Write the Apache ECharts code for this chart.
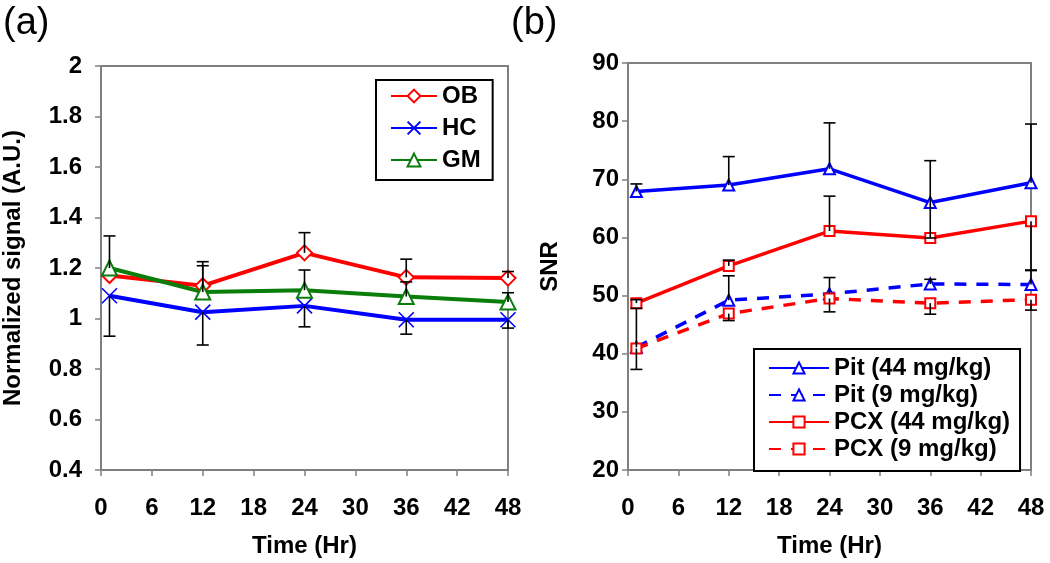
<!DOCTYPE html>
<html>
<head>
<meta charset="utf-8">
<script src="https://cdn.jsdelivr.net/npm/echarts@6/dist/echarts.min.js"></script>
<style>
  html, body { margin: 0; padding: 0; background: #fff; }
  #chart { width: 1050px; height: 563px; }
</style>
</head>
<body>
<div id="chart"></div>
<script>
// time points (hr)
var hours = [1, 12, 24, 36, 48];

// panel (a) - normalized signal
var obVals = [1.17, 1.13, 1.26, 1.163, 1.16];
var obUp = [0, 0.095, 0.08, 0.072, 0.026];
var hcVals = [1.09, 1.025, 1.05, 0.995, 0.995];
var hcDown = [0.16, 0.13, 0.083, 0.057, 0.033];
var gmVals = [1.2, 1.105, 1.112, 1.087, 1.065];
var gmUp = [0.127, 0.104, 0.08, 0.058, 0.037];

// panel (b) - SNR
var pit44 = [67.9, 69.0, 71.8, 66.0, 69.4];
var pit44Up = [1.3, 4.9, 7.9, 7.2, 10.1];
var pit44Down = [0, 0, 0, 6.1, 0];
var pit9 = [41.1, 49.2, 50.3, 52.0, 51.9];
var pit9Up = [6.7, 4.2, 2.8, 0.8, 2.4];
var pcx44 = [48.7, 55.1, 61.1, 59.9, 62.8];
var pcx44Up = [0.6, 1.0, 6.0, 0, 0];
var pcx44Down = [0, 0, 0, 0, 8.4];
var pcx9 = [40.9, 46.9, 49.5, 48.7, 49.3];
var pcx9Down = [3.6, 1.2, 2.3, 1.9, 1.8];

var xTicks = [0, 6, 12, 18, 24, 30, 36, 42, 48];

var FONT = 'Liberation Sans, Arial, sans-serif';
var GRAY = '#808080';
var xMarker = 'path://M0,0L10,10M10,0L0,10';

function pts(vals) {
  return hours.map(function (h, i) { return [h, vals[i]]; });
}

// [x, low, high, capLow, capHigh]
function errData(vals, up, down) {
  var out = [];
  hours.forEach(function (h, i) {
    var u = up ? up[i] : 0, d = down ? down[i] : 0;
    if (u > 0 || d > 0) out.push([h, vals[i] - d, vals[i] + u, d > 0 ? 1 : 0, u > 0 ? 1 : 0]);
  });
  return out;
}

function renderErr(params, api) {
  var lo = api.coord([api.value(0), api.value(1)]);
  var hi = api.coord([api.value(0), api.value(2)]);
  var w = 6;
  var st = { stroke: '#000', lineWidth: 1.6 };
  var kids = [{ type: 'line', shape: { x1: lo[0], y1: lo[1], x2: hi[0], y2: hi[1] }, style: st }];
  if (api.value(4)) kids.push({ type: 'line', shape: { x1: hi[0] - w, y1: hi[1], x2: hi[0] + w, y2: hi[1] }, style: st });
  if (api.value(3)) kids.push({ type: 'line', shape: { x1: lo[0] - w, y1: lo[1], x2: lo[0] + w, y2: lo[1] }, style: st });
  return { type: 'group', children: kids };
}

function errSeries(data, idx) {
  return {
    type: 'custom', xAxisIndex: idx, yAxisIndex: idx, z: 5,
    renderItem: renderErr, encode: { x: 0, y: [1, 2] }, data: data, silent: true
  };
}

function lineSeries(name, vals, color, symbol, size, idx, dashed, width) {
  var isPath = symbol.indexOf('path') === 0;
  return {
    name: name, type: 'line', xAxisIndex: idx, yAxisIndex: idx, z: 3,
    data: pts(vals), symbol: symbol, symbolSize: size, showAllSymbol: true,
    lineStyle: { color: color, width: width, type: dashed ? [12, 10] : 'solid' },
    itemStyle: isPath ? { color: color, borderColor: color, borderWidth: 1.6 } : { color: color, borderWidth: 1.6 },
    emphasis: { disabled: true }
  };
}

var axisBase = {
  type: 'value',
  axisLine: { show: true, onZero: false, lineStyle: { color: GRAY, width: 2 } },
  axisTick: { show: true, inside: false, length: 6, lineStyle: { color: GRAY, width: 1.5 } },
  splitLine: { show: false },
  nameTextStyle: { fontFamily: FONT, fontWeight: 'bold', fontSize: 24, color: '#000' }
};

function xAxis(idx) {
  return Object.assign({}, axisBase, {
    gridIndex: idx, min: 0, max: 48, interval: 6,
    name: 'Time (Hr)', nameLocation: 'middle', nameGap: 64,
    axisLabel: { fontFamily: FONT, fontWeight: 'bold', fontSize: 24, color: '#000', margin: 26,
      formatter: function (v) { return xTicks.indexOf(v) >= 0 ? String(v) : ''; } }
  });
}

var dom = document.getElementById('chart');
var myChart = echarts.init(dom, null, { renderer: 'canvas' });

var legendText = { fontFamily: FONT, fontWeight: 'bold', fontSize: 24, color: '#000' };

var option = {
  backgroundColor: '#fff',
  animation: false,
  title: [
    { text: '(a)', left: -2, top: 0, textStyle: { fontFamily: FONT, fontWeight: 'normal', fontSize: 38, color: '#000' } },
    { text: '(b)', left: 506, top: 0, textStyle: { fontFamily: FONT, fontWeight: 'normal', fontSize: 38, color: '#000' } }
  ],
  grid: [
    { left: 99, top: 66, width: 409, height: 415, show: true, borderColor: GRAY, borderWidth: 2, backgroundColor: '#fff' },
    { left: 628, top: 63, width: 403, height: 418, show: true, borderColor: GRAY, borderWidth: 2, backgroundColor: '#fff' }
  ],
  xAxis: [xAxis(0), xAxis(1)],
  yAxis: [
    Object.assign({}, axisBase, {
      gridIndex: 0, min: 0.4, max: 2, interval: 0.2,
      name: 'Normalized signal (A.U.)', nameLocation: 'middle', nameGap: 76,
      axisLabel: { fontFamily: FONT, fontWeight: 'bold', fontSize: 24, color: '#000', margin: 19,
        formatter: function (v) { return String(parseFloat(v.toFixed(1))); } }
    }),
    Object.assign({}, axisBase, {
      gridIndex: 1, min: 20, max: 90, interval: 10,
      name: 'SNR', nameLocation: 'middle', nameGap: 66,
      axisLabel: { fontFamily: FONT, fontWeight: 'bold', fontSize: 24, color: '#000', margin: 9 }
    })
  ],
  legend: [
    {
      data: ['OB', 'HC', 'GM'], orient: 'vertical', left: 376, top: 80,
      padding: [4, 12, 8, 14], itemGap: 8, itemWidth: 46, itemHeight: 16,
      borderColor: '#000', borderWidth: 2, backgroundColor: '#fff',
      textStyle: legendText
    },
    {
      data: ['Pit (44 mg/kg)', 'Pit (9 mg/kg)', 'PCX (44 mg/kg)', 'PCX (9 mg/kg)'],
      orient: 'vertical', left: 754, top: 349,
      padding: [7, 10, 10, 14], itemGap: 3, itemWidth: 60, itemHeight: 14,
      borderColor: '#000', borderWidth: 2, backgroundColor: '#fff',
      textStyle: legendText
    }
  ],
  series: [
    lineSeries('OB', obVals, '#ff0000', 'emptyDiamond', 15, 0, false, 4),
    lineSeries('HC', hcVals, '#0000ff', xMarker, 15, 0, false, 4),
    lineSeries('GM', gmVals, '#0a7d0a', 'emptyTriangle', 15, 0, false, 4),
    errSeries(errData(obVals, obUp, null), 0),
    errSeries(errData(hcVals, null, hcDown), 0),
    errSeries(errData(gmVals, gmUp, null), 0),

    lineSeries('Pit (44 mg/kg)', pit44, '#0000ff', 'emptyTriangle', 11, 1, false, 3.5),
    lineSeries('Pit (9 mg/kg)', pit9, '#0000ff', 'emptyTriangle', 11, 1, true, 3.5),
    lineSeries('PCX (44 mg/kg)', pcx44, '#ff0000', 'emptyRect', 10, 1, false, 3.5),
    lineSeries('PCX (9 mg/kg)', pcx9, '#ff0000', 'emptyRect', 10, 1, true, 3.5),
    errSeries(errData(pit44, pit44Up, pit44Down), 1),
    errSeries(errData(pit9, pit9Up, null), 1),
    errSeries(errData(pcx44, pcx44Up, pcx44Down), 1),
    errSeries(errData(pcx9, null, pcx9Down), 1)
  ]
};

myChart.setOption(option);
window.addEventListener('resize', myChart.resize);
</script>
</body>
</html>
